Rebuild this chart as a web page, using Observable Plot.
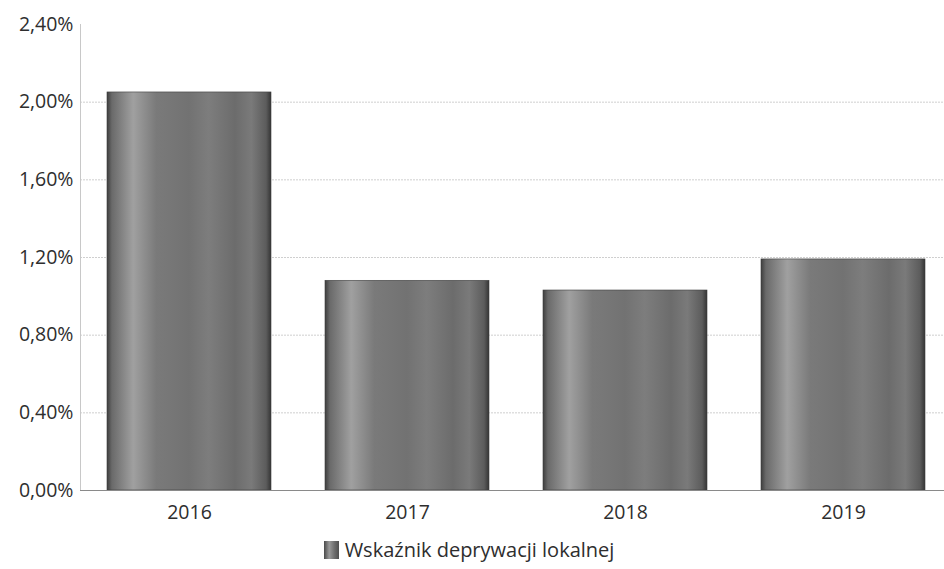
<!DOCTYPE html>
<html>
<head>
<meta charset="utf-8">
<script src="https://cdn.jsdelivr.net/npm/d3@7"></script>
<script src="https://cdn.jsdelivr.net/npm/@observablehq/plot@0.6"></script>
<style>
  html, body { margin: 0; padding: 0; background: #fff; }
  body { width: 944px; height: 569px; overflow: hidden; font-family: "Open Sans", sans-serif; }
  #legend { display: flex; justify-content: center; align-items: center; height: 39px; margin-left: -6px;
            font-size: 20px; color: #2e2e2e; }
  #legend .sw { width: 15px; height: 18px; margin-right: 6px;
                background: linear-gradient(to right, #4a4a4a, #9a9a9a 35%, #6e6e6e 70%, #505050); }
</style>
</head>
<body>
<div id="chart"></div>
<div id="legend"><span class="sw"></span><span>Wskaźnik deprywacji lokalnej</span></div>
<script>
const years = ["2016", "2017", "2018", "2019"];
const values = [2.05, 1.08, 1.03, 1.19];
const yTicks = [0, 0.4, 0.8, 1.2, 1.6, 2.0, 2.4];
const gridTicks = [0.4, 0.8, 1.2, 1.6, 2.0];
const seriesName = "Wskaźnik deprywacji lokalnej";

const data = years.map((y, i) => ({year: y, value: values[i]}));
const fmt = d => d.toFixed(2).replace(".", ",") + "%";

const chart = Plot.plot({
  width: 944,
  height: 530,
  marginTop: 24,
  marginBottom: 40,
  marginLeft: 80,
  marginRight: 0,
  style: {fontFamily: "Open Sans, sans-serif", fontSize: "19.5px", color: "#2e2e2e", background: "#fff", overflow: "hidden"},
  x: {type: "band", domain: years, range: [80, 952], paddingInner: 0.25, paddingOuter: 0.125, label: null},
  y: {domain: [0, 2.4], label: null},
  marks: [
    Plot.gridY(gridTicks, {stroke: "#cfcfcf", strokeOpacity: 1, strokeDasharray: "2,1"}),
    Plot.frame({anchor: "left", stroke: "#c8c8c8", strokeDasharray: "1,1"}),
    Plot.barY(data, {x: "year", y: "value", fill: "url(#barGrad)", stroke: "#3e3e3e", strokeWidth: 0.6, title: d => seriesName + ": " + fmt(d.value)}),
    Plot.ruleY([0], {stroke: "#8a8a8a", strokeWidth: 1.2}),
    Plot.axisY({ticks: yTicks, tickFormat: fmt, tickSize: 0, tickPadding: 7, fontSize: 19.5}),
    Plot.axisX({tickSize: 0, tickPadding: 15, fontSize: 19.5})
  ]
});

const defs = `<defs><linearGradient id="barGrad" x1="0" y1="0" x2="1" y2="0">
  <stop offset="0" stop-color="#3e3e3e"/>
  <stop offset="0.03" stop-color="#6a6a6a"/>
  <stop offset="0.16" stop-color="#a0a0a0"/>
  <stop offset="0.3" stop-color="#7a7a7a"/>
  <stop offset="0.5" stop-color="#727272"/>
  <stop offset="0.62" stop-color="#7d7d7d"/>
  <stop offset="0.78" stop-color="#6c6c6c"/>
  <stop offset="0.88" stop-color="#7a7a7a"/>
  <stop offset="0.97" stop-color="#5c5c5c"/>
  <stop offset="1" stop-color="#353535"/>
</linearGradient></defs>`;
chart.insertAdjacentHTML("afterbegin", defs);
document.getElementById("chart").appendChild(chart);
</script>
</body>
</html>
